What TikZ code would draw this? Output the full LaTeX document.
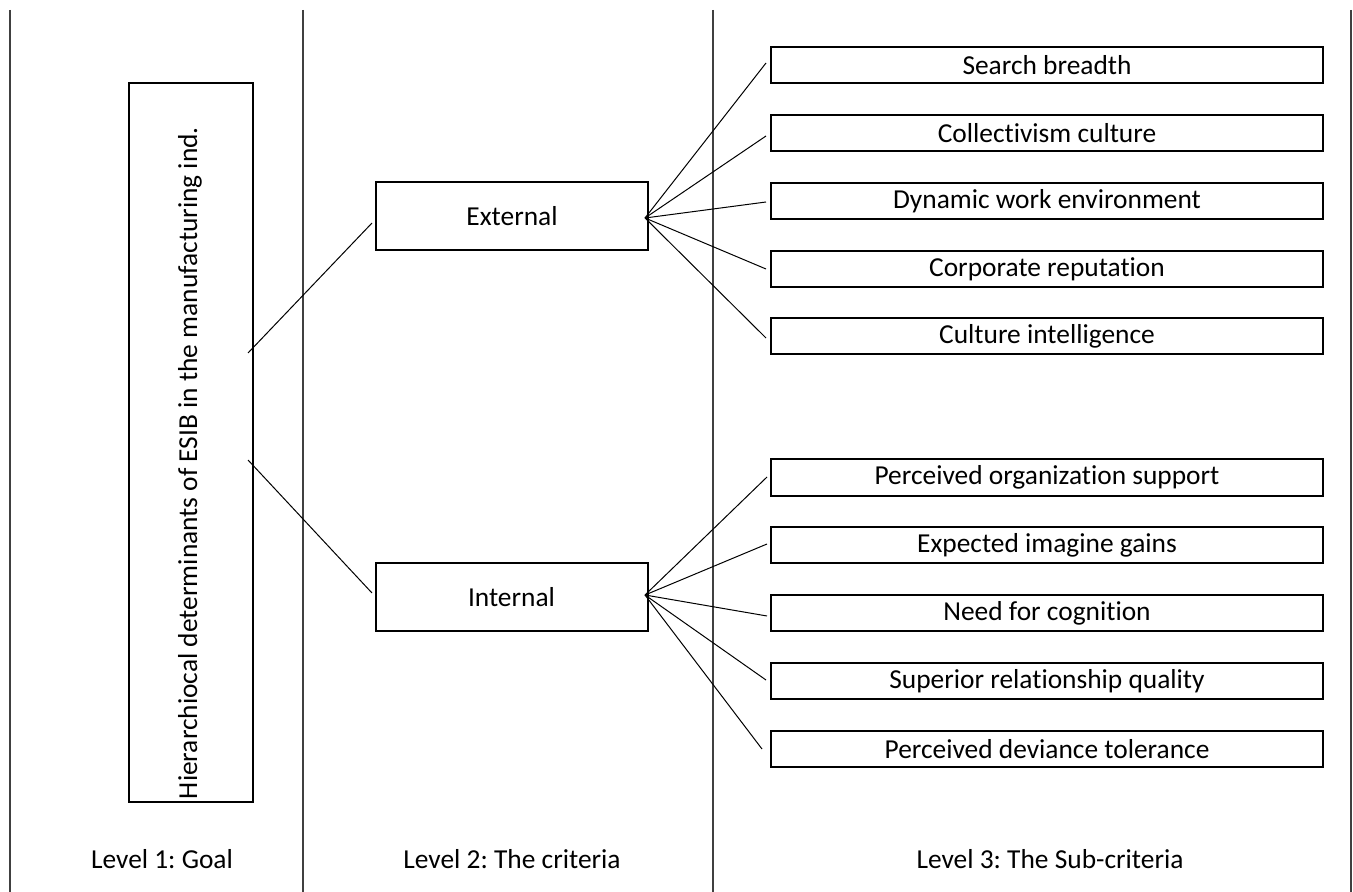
\documentclass[tikz,border=0pt]{standalone}
\usepackage{fontspec}
\setmainfont[Ligatures=NoCommon]{Carlito}
\frenchspacing
\begin{document}
\begin{tikzpicture}[x=0.5pt,y=-0.5pt,
  box/.style={draw=black,line width=1pt,inner sep=0pt,minimum height=18pt},
  subbox/.style={box,minimum width=276pt},
  critbox/.style={box,minimum width=136pt,minimum height=34pt},
  conn/.style={draw=black,line width=0.5pt},
  divider/.style={draw=black!75,line width=0.55pt},
  lbl/.style={inner sep=0pt,font=\fontsize{13.7}{16}\selectfont}]
\useasboundingbox (0,0) rectangle (1353,892);
\tikzset{every node/.append style={font=\fontsize{13.7}{16}\selectfont}}
% dividers
\coordinate (d1t) at (10,10);   \coordinate (d1b) at (10,892);
\coordinate (d2t) at (303,10);  \coordinate (d2b) at (303,892);
\coordinate (d3t) at (713,10);  \coordinate (d3b) at (713,892);
\coordinate (d4t) at (1351,10); \coordinate (d4b) at (1351,892);
\draw[divider] (d1t) -- (d1b);
\draw[divider] (d2t) -- (d2b);
\draw[divider] (d3t) -- (d3b);
\draw[divider] (d4t) -- (d4b);
% goal
\node[box,minimum width=62pt,minimum height=359.5pt] (goal) at (190.5,442.5) {};
\node[lbl,rotate=90] (goaltext) at (190,463) {Hierarchiocal determinants of ESIB in the manufacturing ind.};
% criteria
\node[critbox] (ext) at (512,216.5) {External};
\node[critbox] (int) at (511.5,597) {Internal};
% sub-criteria
\node[subbox] (s1) at (1047,65) {Search breadth};
\node[subbox] (s2) at (1047,133) {Collectivism culture};
\node[subbox] (s3) at (1047,201) {Dynamic work environment};
\node[subbox] (s4) at (1047,269) {Corporate reputation};
\node[subbox] (s5) at (1047,336.5) {Culture intelligence};
\node[subbox] (s6) at (1047,477.5) {Perceived organization support};
\node[subbox] (s7) at (1047,545) {Expected imagine gains};
\node[subbox] (s8) at (1047,613) {Need for cognition};
\node[subbox] (s9) at (1047,681) {Superior relationship quality};
\node[subbox] (s10) at (1047,749) {Perceived deviance tolerance};
% level labels
\node[lbl] (l1) at (162,859) {Level 1: Goal};
\node[lbl] (l2) at (512,859) {Level 2: The criteria};
\node[lbl] (l3) at (1050,859) {Level 3: The Sub-criteria};
% connectors goal -> criteria
\coordinate (g1) at (248,353);
\coordinate (g2) at (248,460);
\coordinate (e1) at (372,223);
\coordinate (i1) at (372,593);
\draw[conn] (g1) -- (e1);
\draw[conn] (g2) -- (i1);
% fans
\coordinate (ef) at (645,218);
\coordinate (if) at (645,595);
\foreach \n/\yy in {s1/63,s2/136,s3/202,s4/269,s5/338}{
  \coordinate (\n-in) at (766,\yy);
  \draw[conn] (ef) -- (\n-in);
}
\foreach \n/\xx/\yy in {s6/767/477,s7/767/544,s8/767/616,s9/766/680,s10/762/749}{
  \coordinate (\n-in) at (\xx,\yy);
  \draw[conn] (if) -- (\n-in);
}
\end{tikzpicture}
\end{document}
